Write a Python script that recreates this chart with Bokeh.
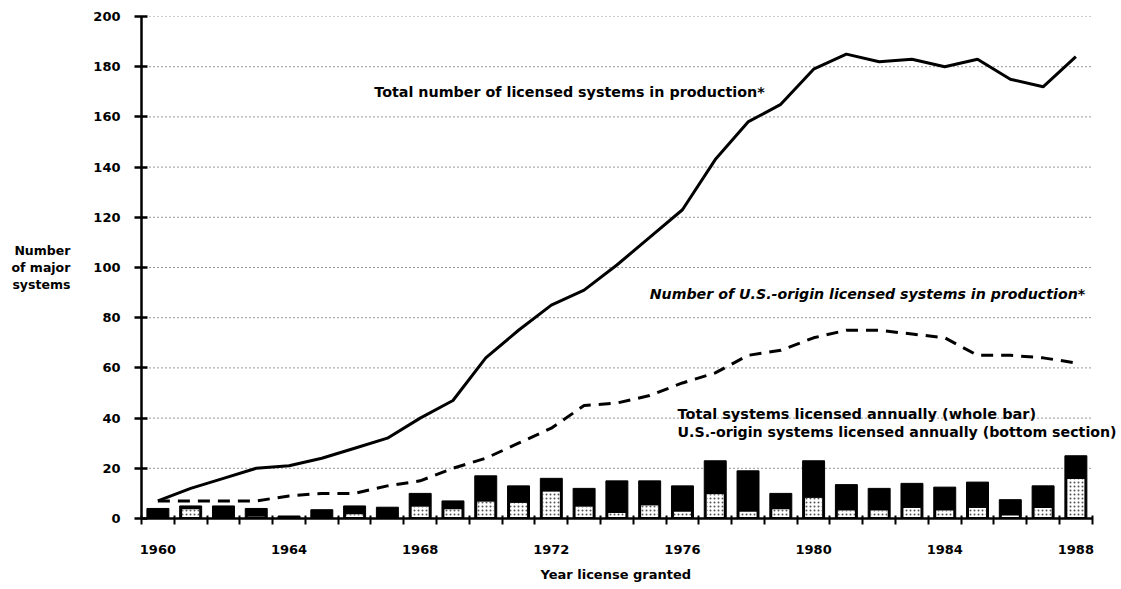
from bokeh.plotting import figure
from bokeh.models import FixedTicker, Label, ColumnDataSource, Title
from bokeh.embed import file_html
from bokeh.resources import INLINE

years = list(range(1960, 1989))
total_in_production = [7, 12, 16, 20, 21, 24, 28, 32, 40, 47, 64, 75, 85, 91, 101, 112,
                       123, 143, 158, 165, 179, 185, 182, 183, 180, 183, 175, 172, 184]
us_in_production = [7, 7, 7, 7, 9, 10, 10, 13, 15, 20, 24, 30, 36, 45, 46, 49,
                    54, 58, 65, 67, 72, 75, 75, 73.5, 72, 65, 65, 64, 62]
total_licensed = [4, 5, 5, 4, 1, 3.5, 5, 4.5, 10, 7, 17, 13, 16, 12, 15, 15,
                  13, 23, 19, 10, 23, 13.5, 12, 14, 12.5, 14.5, 7.5, 13, 25]
us_licensed = [0, 4, 0, 1, 0, 0, 2, 0, 5, 4, 7, 6.5, 11, 5, 2.5, 5.5,
               3, 10, 3, 4, 8.5, 3.5, 3.5, 4.5, 3.5, 4.5, 1.5, 4.5, 16]
y_ticks = list(range(0, 201, 20))
x_label_years = [1960, 1964, 1968, 1972, 1976, 1980, 1984, 1988]

FONT = "DejaVu Sans"

x_start = years[0] - 0.5
x_end = years[-1] + 0.5

p = figure(width=1121, height=589, x_range=(x_start, x_end + 0.8), y_range=(0, 200),
           output_backend="svg", toolbar_location=None,
           min_border_left=141, min_border_right=3, min_border_top=16, min_border_bottom=71)
p.outline_line_color = None
p.background_fill_color = "white"
p.border_fill_color = "white"

# grid (drawn as dotted segments across the axis span)
p.xgrid.grid_line_color = None
p.ygrid.grid_line_color = None
grid_vals = y_ticks[1:]
p.segment(x0=[x_start] * len(grid_vals), x1=[x_end] * len(grid_vals),
          y0=grid_vals, y1=grid_vals, line_color="#333333", line_dash="1 3", line_width=1)

# y axis
p.yaxis.ticker = FixedTicker(ticks=y_ticks)
p.yaxis.axis_line_width = 2.5
p.yaxis.axis_line_color = "black"
p.yaxis.major_tick_line_width = 2.5
p.yaxis.major_tick_line_color = "black"
p.yaxis.major_tick_in = 6
p.yaxis.major_tick_out = 7
p.yaxis.minor_tick_line_color = None
p.yaxis.major_label_text_font = FONT
p.yaxis.major_label_text_font_style = "bold"
p.yaxis.major_label_text_font_size = "13px"
p.yaxis.major_label_text_color = "black"
p.yaxis.major_label_standoff = 14
p.yaxis.axis_label = "Number\nof major\nsystems"
p.yaxis.axis_label_orientation = "horizontal"
p.yaxis.axis_label_text_font = FONT
p.yaxis.axis_label_text_font_style = "bold"
p.yaxis.axis_label_text_font_size = "12.5px"
p.yaxis.axis_label_text_color = "black"
p.yaxis.axis_label_standoff = 20
p.yaxis.axis_label_text_line_height = 1.15

# x axis
boundaries = [y - 0.5 for y in years] + [x_end]
p.xaxis.bounds = (x_start, x_end)
p.xaxis.ticker = FixedTicker(ticks=x_label_years, minor_ticks=boundaries)
p.xaxis.axis_line_width = 2.5
p.xaxis.axis_line_color = "black"
p.xaxis.major_tick_line_color = None
p.xaxis.major_tick_in = 0
p.xaxis.major_tick_out = 0
p.xaxis.minor_tick_line_color = "black"
p.xaxis.minor_tick_line_width = 2
p.xaxis.minor_tick_in = 3
p.xaxis.minor_tick_out = 6
p.xaxis.major_label_text_font = FONT
p.xaxis.major_label_text_font_style = "bold"
p.xaxis.major_label_text_font_size = "13px"
p.xaxis.major_label_text_color = "black"
p.xaxis.major_label_standoff = 20

p.add_layout(Title(text="Year license granted", align="left", offset=399,
                   text_font=FONT, text_font_style="bold", text_font_size="13px",
                   text_color="black", standoff=16), "below")

# bars
src = ColumnDataSource(dict(year=years, total=total_licensed, us=us_licensed))
p.vbar(x="year", top="total", bottom=0, width=0.67, source=src,
       fill_color="black", line_color="black", line_width=1)

inner_years = [y for y, u in zip(years, us_licensed) if u > 0]
inner_top = [u - 0.3 for u in us_licensed if u > 0]
p.vbar(x=inner_years, top=inner_top, bottom=0.6, width=0.52,
       fill_color="white", line_color=None,
       hatch_pattern="dot", hatch_scale=4, hatch_color="#555555", hatch_weight=1)

# lines
p.line(years, total_in_production, line_color="black", line_width=3)
p.line(years, us_in_production, line_color="black", line_width=3, line_dash="12 8")

def add_label(x, y, text, italic=False, size="14px", baseline="middle", align="left"):
    p.add_layout(Label(x=x, y=y, text=text, text_font=FONT,
                       text_font_style="bold italic" if italic else "bold",
                       text_font_size=size, text_color="black",
                       text_baseline=baseline, text_align=align))

add_label(1966.6, 170, "Total number of licensed systems in production*", size="14.3px")
add_label(1975.0, 89.6, "Number of U.S.-origin licensed systems in production*", italic=True, size="14.2px")
add_label(1975.85, 41.8, "Total systems licensed annually (whole bar)", size="14.5px")
add_label(1975.85, 34.3, "U.S.-origin systems licensed annually (bottom section)", size="14.2px")

open("out.html", "w").write(file_html(p, INLINE))
